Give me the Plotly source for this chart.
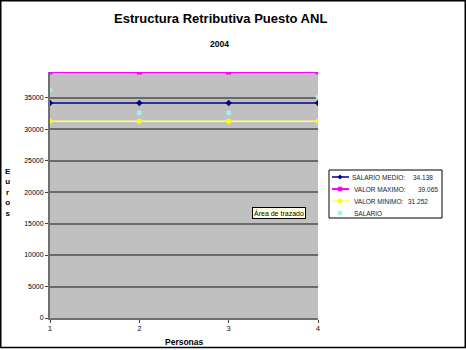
import plotly.graph_objects as go

personas = [1, 2, 3, 4]
salario = [36200, 32600, 32600, 35150]
salario_medio = [34138, 34138, 34138, 34138]
valor_maximo = [39065, 39065, 39065, 39065]
valor_minimo = [31252, 31252, 31252, 31252]
y_ticks = [0, 5000, 10000, 15000, 20000, 25000, 30000, 35000]

series = [
    # name, values, colour, marker, line width, draw line
    ("SALARIO MEDIO:", salario_medio, "#000080", "diamond", 1.5, True),
    ("VALOR MAXIMO:", valor_maximo, "#FF00FF", "square", 2, True),
    ("VALOR MINIMO:", valor_minimo, "#FFFF66", "circle", 1.5, True),
    ("SALARIO", salario, "#A0F0F0", "circle", 0, False),
]

fig = go.Figure()
for name, vals, color, symbol, lw, with_line in series:
    fig.add_trace(go.Scatter(
        x=personas, y=vals, name=name,
        mode="lines+markers" if with_line else "markers",
        line=dict(color=color, width=lw if lw else 1),
        marker=dict(symbol=symbol, size=5,
                    color="#FFFF00" if color == "#FFFF66" else color),
        showlegend=False))

W0, W = 50, 268   # plot area left edge and width (px)
B0, H = 318, 246  # plot area bottom edge and height (px)


def px(x):
    return (x - W0) / W


def py(y):
    return (B0 - y) / H


def miles(v):
    return f"{v:,}".replace(",", ".")


annotations = [
    dict(text="<b>Estructura Retributiva Puesto ANL</b>", x=px(220), y=py(18),
         font=dict(size=13)),
    dict(text="<b>2004</b>", x=px(219), y=py(44), font=dict(size=8.5)),
    dict(text="<b>E<br>u<br>r<br>o<br>s</b>", x=px(8), y=py(192),
         font=dict(size=8), align="center"),
    dict(text="<b>Personas</b>", x=px(184), y=py(342), font=dict(size=8.5)),
    dict(text="Área de trazado", x=px(279), y=py(213),
         font=dict(size=7), bgcolor="#FFFFE1", bordercolor="#000000",
         borderwidth=1, borderpad=1),
]

shapes = [
    # outer frame
    dict(type="rect", x0=px(0.75), x1=px(465.25), y0=py(347.5), y1=py(0.75),
         line=dict(color="#000000", width=1.5)),
    # legend box
    dict(type="rect", x0=px(329), x1=px(442), y0=py(218), y1=py(170),
         line=dict(color="#000000", width=1), fillcolor="white"),
]

# legend rows: key line, key marker, label, value
rows_y = [177, 189, 201, 213]
label_x = [350, 352, 352, 352]
value_x = [435, 440, 430, None]
for (name, vals, color, symbol, lw, with_line), ry, lx, vx in zip(series, rows_y, label_x, value_x):
    mcol = "#FFFF00" if color == "#FFFF66" else color
    if with_line:
        shapes.append(dict(type="line", x0=px(332), x1=px(349), y0=py(ry), y1=py(ry),
                           line=dict(color=color, width=lw)))
    r = 2.2
    if symbol == "diamond":
        path = (f"M {px(340 - r)} {py(ry)} L {px(340)} {py(ry - r)} "
                f"L {px(340 + r)} {py(ry)} L {px(340)} {py(ry + r)} Z")
        shapes.append(dict(type="path", path=path, fillcolor=mcol,
                           line=dict(color=mcol, width=0.5)))
    elif symbol == "square":
        shapes.append(dict(type="rect", x0=px(340 - 2), x1=px(340 + 2),
                           y0=py(ry + 2), y1=py(ry - 2), fillcolor=mcol,
                           line=dict(color=mcol, width=0.5)))
    else:
        shapes.append(dict(type="circle", x0=px(340 - r), x1=px(340 + r),
                           y0=py(ry + r), y1=py(ry - r), fillcolor=mcol,
                           line=dict(color=mcol, width=0.5)))
    annotations.append(dict(text=name, x=px(lx), y=py(ry), xanchor="left",
                            font=dict(size=6.5, color="#222222")))
    if vx is not None:
        annotations.append(dict(text=miles(vals[0]), x=px(vx), y=py(ry), xanchor="right",
                                font=dict(size=6.5, color="#222222")))

for a in annotations:
    a.setdefault("xanchor", "center")
    a.update(xref="paper", yref="paper", showarrow=False, yanchor="middle")
for s in shapes:
    s.update(xref="paper", yref="paper")

fig.update_layout(
    width=466, height=350,
    margin=dict(l=50, r=148, t=72, b=32, autoexpand=False),
    paper_bgcolor="white", plot_bgcolor="#C0C0C0",
    font=dict(family="Liberation Sans, Arial, sans-serif", size=8, color="#000000"),
    showlegend=False,
    xaxis=dict(range=[1, 4], tickvals=personas, ticks="outside", ticklen=3,
               showgrid=False, showline=True, linecolor="#707070", linewidth=2,
               zeroline=False, tickfont=dict(size=7)),
    yaxis=dict(range=[0, 39065], tickvals=y_ticks, ticktext=[str(v) for v in y_ticks],
               ticks="outside", ticklen=3,
               showgrid=True, gridcolor="#6a6a6a", gridwidth=2,
               showline=True, linecolor="#707070", linewidth=2,
               zeroline=False, tickfont=dict(size=7)),
    annotations=annotations,
    shapes=shapes,
)

fig.write_html("out.html")
